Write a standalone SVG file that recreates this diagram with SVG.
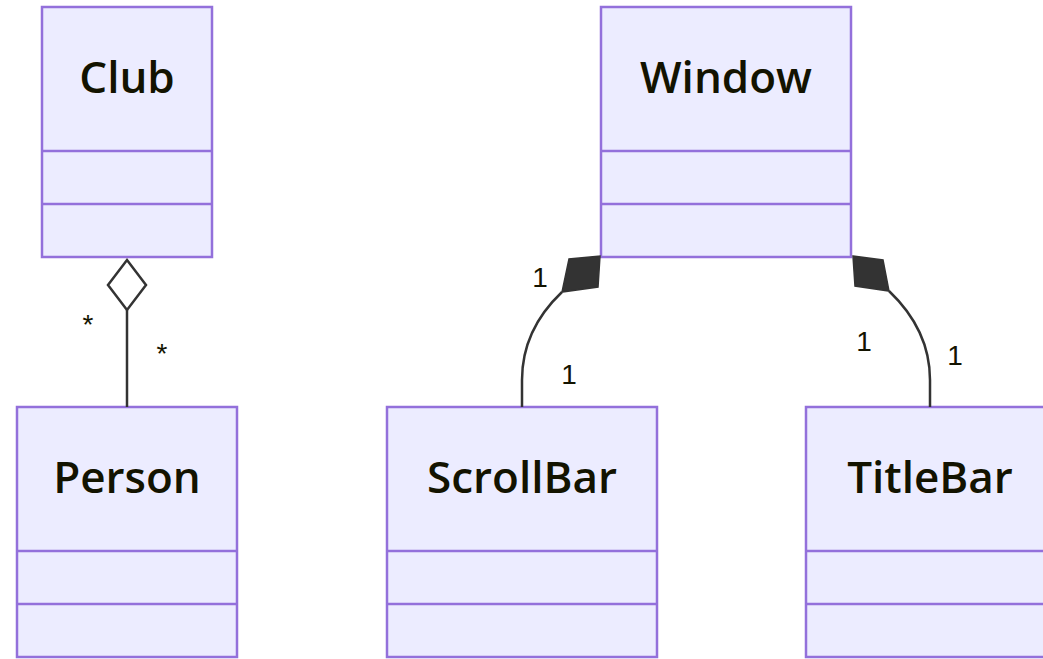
<svg xmlns="http://www.w3.org/2000/svg" width="1043" height="659" viewBox="0 0 1043 659">
  <style>
    .box { fill: #ECECFF; stroke: #9370DB; stroke-width: 2.5; }
    .div { stroke: #9370DB; stroke-width: 2.5; }
    .title { font-family: "Open Sans", "Noto Sans", "DejaVu Sans", sans-serif; font-weight: 600; font-size: 44px; fill: #131300; text-anchor: middle; }
    .edge { fill: none; stroke: #333333; stroke-width: 2.5; }
    .card { font-family: "Liberation Sans", Arial, sans-serif; font-size: 28px; fill: #131300; text-anchor: middle; }
  </style>
  <rect width="1043" height="659" fill="#ffffff"/>

  <g id="Club">
    <rect class="box" x="42" y="7" width="170" height="250"/>
    <line class="div" x1="42" y1="151" x2="212" y2="151"/>
    <line class="div" x1="42" y1="204" x2="212" y2="204"/>
    <text class="title" x="127" y="93">Club</text>
  </g>

  <g id="Person">
    <rect class="box" x="17" y="407" width="220" height="250"/>
    <line class="div" x1="17" y1="551" x2="237" y2="551"/>
    <line class="div" x1="17" y1="604" x2="237" y2="604"/>
    <text class="title" x="127" y="493">Person</text>
  </g>

  <g id="Window">
    <rect class="box" x="601" y="7" width="250" height="250"/>
    <line class="div" x1="601" y1="151" x2="851" y2="151"/>
    <line class="div" x1="601" y1="204" x2="851" y2="204"/>
    <text class="title" x="726" y="93">Window</text>
  </g>

  <g id="ScrollBar">
    <rect class="box" x="387" y="407" width="270" height="250"/>
    <line class="div" x1="387" y1="551" x2="657" y2="551"/>
    <line class="div" x1="387" y1="604" x2="657" y2="604"/>
    <text class="title" x="522" y="493">ScrollBar</text>
  </g>

  <g id="TitleBar">
    <rect class="box" x="806" y="407" width="250" height="250"/>
    <line class="div" x1="806" y1="551" x2="1056" y2="551"/>
    <line class="div" x1="806" y1="604" x2="1056" y2="604"/>
    <text class="title" x="930" y="493">TitleBar</text>
  </g>

  <g id="connectors">
    <!-- aggregation: Club to Person -->
    <line class="edge" x1="127" y1="310" x2="127" y2="407"/>
    <polygon points="127,260 146,285 127,310 108,285" fill="#ffffff" stroke="#333333" stroke-width="2.5"/>
    <text class="card" x="88" y="334">*</text>
    <text class="card" x="162" y="363">*</text>

    <!-- composition: Window to ScrollBar -->
    <path class="edge" d="M562,292 Q522,330 522,380 L522,407"/>
    <polygon points="600,256 598,287 562,292 569,259" fill="#333333" stroke="#333333" stroke-width="1.5"/>
    <text class="card" x="540" y="287">1</text>
    <text class="card" x="569" y="384">1</text>

    <!-- composition: Window to TitleBar -->
    <path class="edge" d="M889,291 Q930,330 930,380 L930,407"/>
    <polygon points="853,256 883,260 889,291 855,286" fill="#333333" stroke="#333333" stroke-width="1.5"/>
    <text class="card" x="864" y="351">1</text>
    <text class="card" x="955" y="365">1</text>
  </g>
</svg>
